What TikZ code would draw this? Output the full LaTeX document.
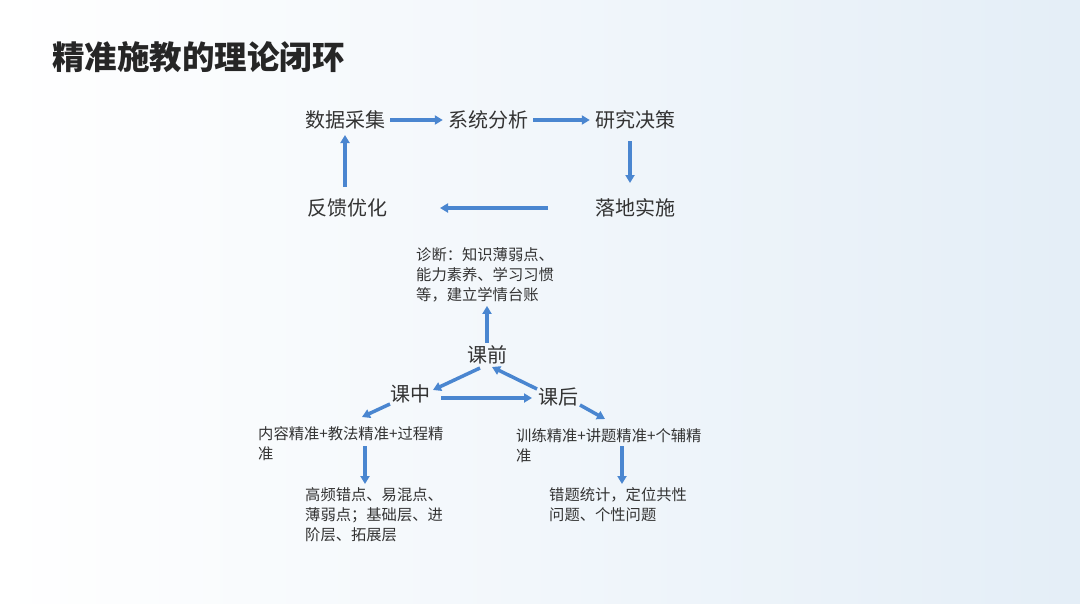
\documentclass[tikz,border=0pt]{standalone}
\usepackage{fontspec}
\setmainfont{Noto Sans CJK SC}
\usetikzlibrary{arrows.meta,positioning}
\definecolor{arrowblue}{HTML}{4A86D0}
\definecolor{bgblue}{HTML}{E4EEF7}
\tikzset{
  stage/.style={inner sep=0pt,font=\fontsize{20}{24}\selectfont,text=black!80},
  note/.style={inner sep=0pt,align=left,font=\fontsize{15.3}{20}\selectfont,text=black!80},
  flow/.style={arrowblue,line width=3.5pt,-{Triangle[length=8pt,width=9pt]},shorten <=5pt,shorten >=5pt},
}
\begin{document}
\begin{tikzpicture}[x=1pt,y=-1pt]
  \useasboundingbox (0,0) rectangle (1080,603);
  \shade[left color=white,right color=bgblue] (0,0) rectangle (1080,603);
  \node[anchor=west,inner sep=0pt,font=\fontsize{32.5}{38}\selectfont\bfseries,text=black!85] (title) at (52,57) {精准施教的理论闭环};
  % loop
  \node[stage] (cj) at (345,120) {数据采集};
  \node[stage] (fx) at (488,120) {系统分析};
  \node[stage] (jc) at (635,120) {研究决策};
  \node[stage] (ss) at (635,208) {落地实施};
  \node[stage] (yh) at (347,208) {反馈优化};
  \draw[flow] (cj) -- (fx);
  \draw[flow] (fx) -- (jc);
  \draw[flow] (630,136) -- (630,188);
  \draw[flow,shorten <=0pt,shorten >=0pt] (548,208) -- (440,208);
  \draw[flow] (345,192) -- (345,130);
  % lesson triangle
  \node[note,anchor=north west] (zd) at (416,247) {诊断：知识薄弱点、\\能力素养、学习习惯\\等，建立学情台账};
  \node[stage] (kq) at (487,355) {课前};
  \node[stage] (kz) at (410,394) {课中};
  \node[stage] (kh) at (558,397) {课后};
  \draw[flow,shorten <=3pt,shorten >=4pt] (kq) -- (kq |- zd.south);
  \draw[flow,shorten <=0pt,shorten >=0pt] (480,368) -- (433,390);
  \draw[flow,shorten <=0pt,shorten >=0pt] (441,398) -- (532,398);
  \draw[flow,shorten <=0pt,shorten >=0pt] (537,389) -- (492,367);
  \node[note,anchor=north west] (nr) at (258,426) {内容精准+教法精准+过程精\\准};
  \node[note,anchor=north west] (xl) at (516,428) {训练精准+讲题精准+个辅精\\准};
  \draw[flow,shorten <=0pt,shorten >=0pt] (390,404) -- (362,417);
  \draw[flow,shorten <=0pt,shorten >=0pt] (580,405) -- (605,419);
  \node[note,anchor=north west] (gp) at (305,487) {高频错点、易混点、\\薄弱点；基础层、进\\阶层、拓展层};
  \node[note,anchor=north west] (ct) at (549,487) {错题统计，定位共性\\问题、个性问题};
  \draw[flow,shorten <=0pt,shorten >=0pt] (365,446) -- (365 ,484);
  \draw[flow,shorten <=0pt,shorten >=0pt] (622,446) -- (622,484);
\end{tikzpicture}
\end{document}
